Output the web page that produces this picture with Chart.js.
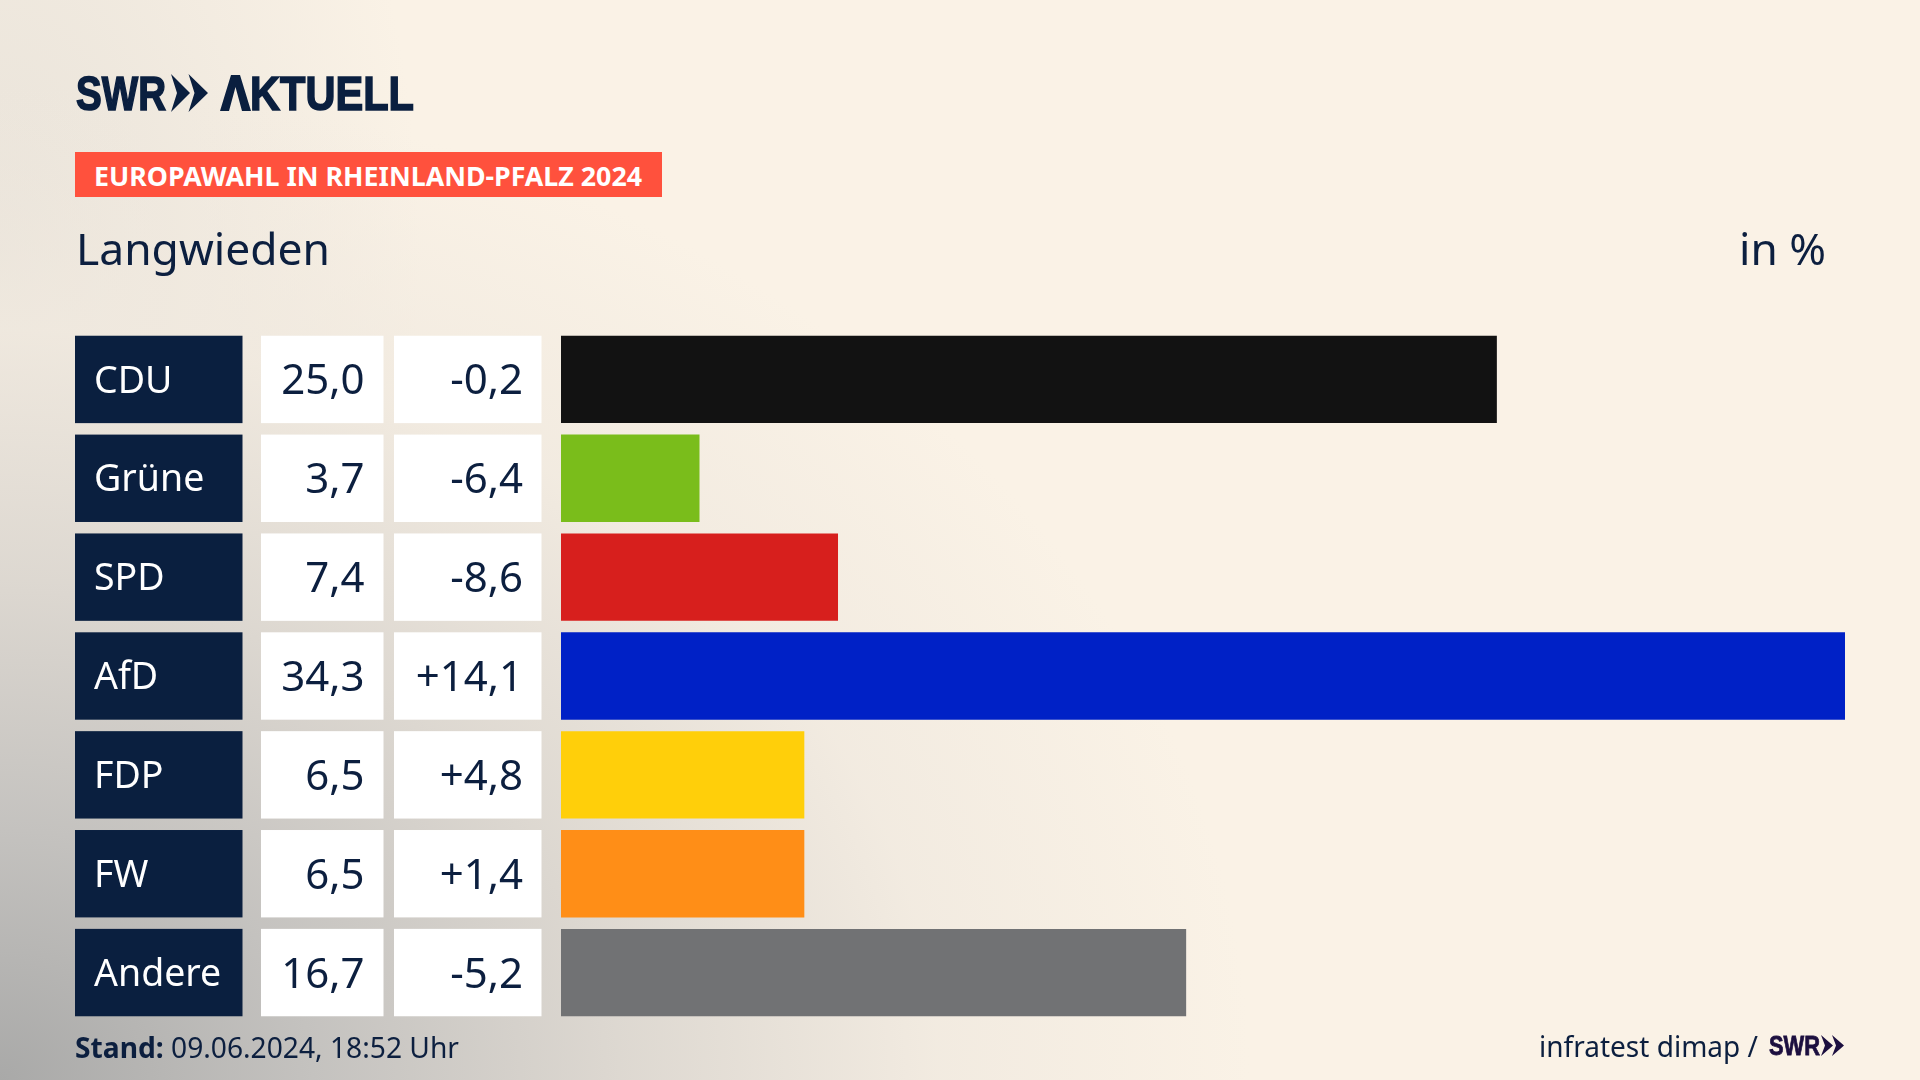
<!DOCTYPE html>
<html lang="de"><head><meta charset="utf-8"><title>Europawahl in Rheinland-Pfalz 2024 – Langwieden</title>
<script src="https://cdn.jsdelivr.net/npm/chart.js@4"></script>
<style>
html,body{margin:0;padding:0;width:1920px;height:1080px;overflow:hidden}
body{position:relative;background:
 radial-gradient(ellipse 1250px 1000px at 0 1080px,#a9a9a8 0,rgba(196,194,191,1) 25%,rgba(220,215,208,.95) 50%,rgba(240,233,223,.8) 75%,rgba(250,242,230,0) 100%),
 radial-gradient(ellipse 420px 700px at 0 250px,rgba(225,220,212,.7) 0,rgba(250,242,230,0) 100%),#faf2e6;
 font-family:'Noto Sans',sans-serif;color:#0c1f3f}
canvas{position:absolute;left:0;top:0}
.t{position:absolute;white-space:nowrap;line-height:1;transform-origin:0 0}
svg{position:absolute}
.logo{-webkit-text-stroke:1.6px currentColor}
</style></head><body>
<canvas id="c" width="1920" height="1080" style="width:1920px;height:1080px"></canvas>
<div class="t logo" data-w="90" style="left:76px;top:65px;font:700 49px 'Liberation Sans';color:#0a1f3f">SWR</div>
<svg style="left:171px;top:74px" width="37" height="38" viewBox="0 0 37 38"><path fill="#0a1f3f" d="M0 0l19 19L0 38l6-19zM17.500 0L37 19 17.500 38l6-19z"/></svg>
<div class="t logo" data-w="194" style="left:220px;top:65px;font:700 49px 'Liberation Sans';color:#0a1f3f"><span style="color:transparent;-webkit-text-stroke:0">A</span>KTUELL</div>
<svg style="left:220px;top:75px" width="31" height="36" viewBox="0 0 31 36"><path fill="#0a1f3f" d="M11 0h9l11 36h-9L15.500 12 9 36H0z"/></svg>
<div style="position:absolute;left:75px;top:152px;width:587px;height:45px;background:#ff513d"></div>
<div class="t" data-w="548" style="left:94px;top:156.500px;font:700 27px 'Noto Sans';color:#fff">EUROPAWAHL IN RHEINLAND-PFALZ 2024</div>
<div class="t" data-w="254" style="left:76px;top:217.500px;font:400 44px 'Noto Sans'">Langwieden</div>
<div class="t" data-w="87" style="left:1739px;top:217.500px;font:400 44px 'Noto Sans'">in %</div>
<div class="t" data-w="384" style="left:75px;top:1026.500px;font:400 29px 'Noto Sans'"><b>Stand:</b> 09.06.2024, 18:52 Uhr</div>
<div class="t" data-w="219" style="left:1539px;top:1026px;font:400 29px 'Noto Sans'">infratest dimap /</div>
<div class="t logo" data-w="51" style="left:1769px;top:1031px;font:700 27px 'Liberation Sans';color:#1c0f3f;-webkit-text-stroke-width:.8px">SWR</div>
<svg style="left:1821px;top:1035px" width="23" height="21" viewBox="0 0 23 21"><path fill="#1c0f3f" d="M0 0l12 10.500L0 21l4-10.500zM11 0l12 10.500L11 21l4-10.500z"/></svg>
<script>
const categories=['CDU','Grüne','SPD','AfD','FDP','FW','Andere'];
const shares=[25.0,3.7,7.4,34.3,6.5,6.5,16.7];
const changes=['-0,2','-6,4','-8,6','+14,1','+4,8','+1,4','-5,2'];
const shareLabels=['25,0','3,7','7,4','34,3','6,5','6,5','16,7'];
const barColors=['#121212','#7abd1b','#d71f1d','#0021c6','#ffcf0a','#ff8e17','#717274'];
document.querySelectorAll('[data-w]').forEach(e=>{e.style.transform='scaleX('+(+e.dataset.w/e.getBoundingClientRect().width)+')';});
const tablePlugin={id:'table',beforeDraw(chart){
 const ctx=chart.ctx,y=chart.scales.y,meta=chart.getDatasetMeta(0);
 ctx.save();
 categories.forEach((c,i)=>{
  const cy=y.getPixelForValue(i),h=meta.data[i].height,top=cy-h/2;
  ctx.fillStyle='#0a1f3f';ctx.fillRect(75,top,167.500,h);
  ctx.fillStyle='#fff';ctx.fillRect(261,top,122.500,h);ctx.fillRect(394,top,147.500,h);
  ctx.fillStyle='#0c1f3f';ctx.font='400 42px "Noto Sans"';ctx.textAlign='right';ctx.textBaseline='middle';
  ctx.fillText(shareLabels[i],364.500,cy+3);ctx.fillText(changes[i],523,cy+3);
 });
 ctx.restore();
}};
new Chart(document.getElementById('c'),{type:'bar',
 data:{labels:categories,datasets:[{data:shares,backgroundColor:barColors,borderWidth:0,barPercentage:.884,categoryPercentage:1}]},
 options:{indexAxis:'y',responsive:false,animation:false,devicePixelRatio:1,
  layout:{padding:{left:94,right:75,top:330,bottom:58}},
  plugins:{legend:{display:false},tooltip:{enabled:false}},
  scales:{
   x:{min:0,max:34.3,display:false},
   y:{grid:{display:false},border:{display:false},afterFit(s){s.width=467},
      ticks:{crossAlign:'far',color:'#fff',font:{family:'Noto Sans',size:37.500,weight:'400'},padding:0,labelOffset:2.500}}
  }},plugins:[tablePlugin]});
</script></body></html>
